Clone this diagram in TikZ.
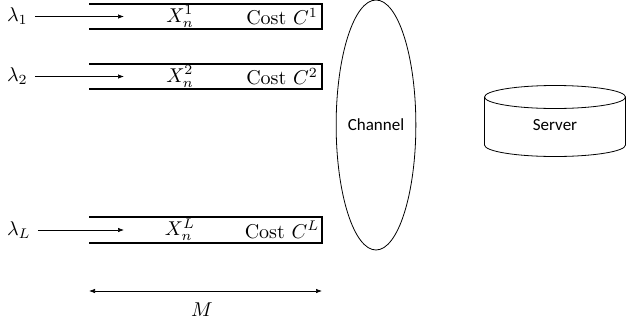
\documentclass[tikz,border=0pt]{standalone}
\usepackage{fontspec}
\newfontfamily\calfont{Carlito}
\usetikzlibrary{positioning,arrows.meta,shapes.geometric}

\begin{document}
\begin{tikzpicture}[
    x=0.5pt, y=-0.5pt,
    queue/.style={draw, line width=0.6pt},
    feed/.style={-{Latex[length=3pt,width=2.2pt]}, line width=0.3pt},
    lbl/.style={font=\calfont\fontsize{8.5}{10}\selectfont}
  ]
  \useasboundingbox (0,0) rectangle (626,322);

  % arrival rates
  \node[anchor=west] (lam1) at (0,16.5) {$\lambda_1$};
  \node[anchor=west] (lam2) at (0,76.5) {$\lambda_2$};
  \node[anchor=west] (lamL) at (0,230) {$\lambda_L$};

  % queues (open on the left)
  \draw[queue] (89,4) -- (322,4) -- (322,29) -- (89,29);
  \draw[queue] (89,64) -- (322,64) -- (322,89) -- (89,89);
  \draw[queue] (89,217) -- (322,217) -- (322,243) -- (89,243);

  \coordinate (in1) at (124,16.5);
  \coordinate (in2) at (124,76.5);
  \coordinate (inL) at (124,230);
  \draw[feed] (lam1) -- (in1);
  \draw[feed] (lam2) -- (in2);
  \draw[feed] (lamL) -- (inL);

  \node (x1) at (180,16.5) {$X_n^1$};
  \node (x2) at (180,76.5) {$X_n^2$};
  \node (xL) at (180,230) {$X_n^L$};
  \node (c1) at (282,16.5) {Cost $C^1$};
  \node (c2) at (282,76.5) {Cost $C^2$};
  \node (cL) at (282,230) {Cost $C^L$};

  % queue length
  \coordinate (mL) at (89,291);
  \coordinate (mR) at (322,291);
  \draw[{Latex[length=3pt,width=2.2pt]}-{Latex[length=3pt,width=2.2pt]}, line width=0.3pt] (mL) -- (mR);
  \node (m) at (202,310) {$M$};

  % channel
  \node[draw, ellipse, lbl, minimum width=39.5pt, minimum height=125pt, inner sep=0pt] (chan) at (376,125) {Channel};

  % server
  \draw (555,97) ellipse [x radius=70.5, y radius=11.5];
  \draw (484.5,97) -- (484.5,145) arc[start angle=180, end angle=0, x radius=70.5, y radius=11.5] -- (625.5,97);
  \node[lbl] (server) at (555,125) {Server};
\end{tikzpicture}
\end{document}
